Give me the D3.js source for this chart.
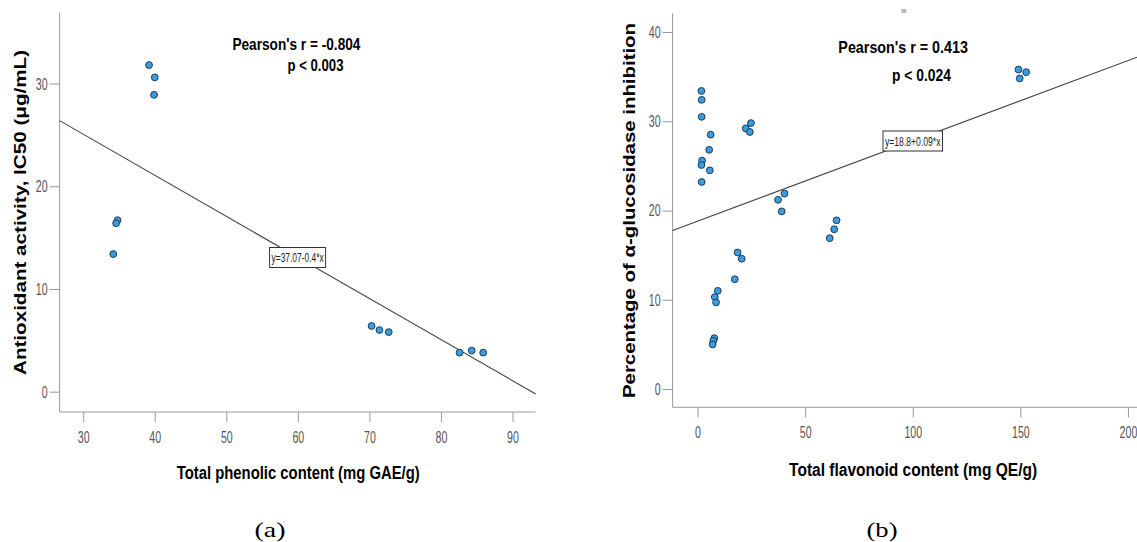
<!DOCTYPE html>
<html>
<head>
<meta charset="utf-8">
<script src="https://cdn.jsdelivr.net/npm/d3@7"></script>
<style>
	body { margin: 0; background: #fff; }
	.tick text { font-family: "Liberation Sans", sans-serif; font-size: 17px; fill: #555; }
	.tick line { stroke: #999; }
	.domain { stroke: #999; }
	.title { font-family: "Liberation Sans", sans-serif; font-weight: bold; fill: #000; }
	.cap { font-family: "Liberation Serif", "DejaVu Serif", serif; font-size: 21px; fill: #000; }
</style>
</head>
<body>
<svg class="chart" width="1137" height="542"></svg>
<script>
// (a) phenolic vs antioxidant IC50
const phenolicX = [39.2, 40.0, 39.9, 34.8, 34.6, 34.2, 70.3, 71.4, 72.7, 82.6, 84.3, 85.9];
const antioxY = [31.8, 30.6, 28.9, 16.7, 16.4, 13.4, 6.4, 6.0, 5.8, 3.8, 4.0, 3.8];
const phenolicTicks = [30, 40, 50, 60, 70, 80, 90];
const antioxTicks = [0, 10, 20, 30];

// (b) flavonoid vs alpha-glucosidase inhibition
const flavonoidX = [1.8, 1.9, 1.9, 6.1, 5.4, 2.1, 1.8, 5.7, 1.9, 22.4, 24.3, 24.8, 37.4, 40.4, 39.1,
	61.4, 63.5, 64.6, 18.6, 20.5, 17.3, 9.4, 8.0, 8.6, 7.8, 7.3, 7.0, 149.1, 149.7, 152.7];
const glucosidaseY = [33.4, 32.4, 30.5, 28.5, 26.8, 25.6, 25.1, 24.5, 23.2, 29.2, 28.8, 29.8, 21.2, 21.9, 19.9,
	16.9, 17.9, 18.9, 15.3, 14.6, 12.3, 11.0, 10.3, 9.7, 5.7, 5.4, 5.0, 35.8, 34.8, 35.5];
const flavonoidTicks = [0, 50, 100, 150, 200];
const glucosidaseTicks = [0, 10, 20, 30, 40];

const svg = d3.select('.chart');

// squeeze text to a width (the original uses a narrow font)
function fit(sel, w) {
	sel.attr('textLength', w).attr('lengthAdjust', 'spacingAndGlyphs');
}

function drawPanel(p) {
	const x = d3.scaleLinear().domain(p.xDomain).range([p.left, p.right]);
	const y = d3.scaleLinear().domain(p.yDomain).range([p.bottom, p.top]);
	const g = svg.append('g');

	const xAxis = g.append('g')
		.attr('transform', `translate(0,${p.bottom})`)
		.call(d3.axisBottom(x).tickValues(p.xTicks).tickSize(10).tickSizeOuter(0).tickPadding(9));
	const yAxis = g.append('g')
		.attr('transform', `translate(${p.left},0)`)
		.call(d3.axisLeft(y).tickValues(p.yTicks).tickSize(10).tickSizeOuter(0).tickPadding(2));
	xAxis.select('.domain').attr('d', `M${p.left},0H${p.right}`);
	yAxis.select('.domain').attr('d', `M0,${p.top}V${p.bottom}`);
	g.selectAll('.tick text').each(function() {
		const s = d3.select(this);
		fit(s, s.text().length * 5.9);
	});

	// regression line
	const x0 = p.xDomain[0];
	const x1 = p.xDomain[1];
	g.append('line')
		.attr('x1', x(x0))
		.attr('y1', y(p.a + p.b * x0))
		.attr('x2', x(x1))
		.attr('y2', y(p.a + p.b * x1))
		.attr('stroke', '#444')
		.attr('stroke-width', 1.1);

	// equation label
	const lbl = g.append('g').attr('transform', `translate(${p.eqPos[0]},${p.eqPos[1]})`);
	lbl.append('rect')
		.attr('width', p.eqW)
		.attr('height', 20)
		.attr('fill', '#fff')
		.attr('stroke', '#333');
	lbl.append('text')
		.text(p.eq)
		.attr('x', 2)
		.attr('y', 14.5)
		.attr('font-family', '"Liberation Sans", sans-serif')
		.attr('font-size', 12)
		.attr('fill', '#222')
		.call(fit, p.eqW - 4);

	g.selectAll('.dot')
		.data(p.xs)
		.enter()
		.append('circle')
		.attr('cx', function(d) { return x(d); })
		.attr('cy', function(d, i) { return y(p.ys[i]); })
		.attr('r', 3.4)
		.attr('fill', '#3a9de0')
		.attr('stroke', '#1e3a55')
		.attr('stroke-width', 1)
		.attr('class', 'dot');

	g.append('text').attr('class', 'title')
		.attr('x', p.rPos[0]).attr('y', p.rPos[1])
		.attr('text-anchor', 'middle').attr('font-size', 17)
		.text(p.rText)
		.call(fit, p.rW);
	g.append('text').attr('class', 'title')
		.attr('x', p.pPos[0]).attr('y', p.pPos[1])
		.attr('text-anchor', 'middle').attr('font-size', 17)
		.text(p.pText)
		.call(fit, p.pW);

	g.append('text').attr('class', 'title')
		.attr('x', p.xTitle[0]).attr('y', p.xTitle[1])
		.attr('text-anchor', 'middle').attr('font-size', 18)
		.text(p.xLabel)
		.call(fit, p.xW);
	g.append('text').attr('class', 'title')
		.attr('transform', `translate(${p.yTitle[0]},${p.yTitle[1]}) rotate(-90)`)
		.attr('text-anchor', 'middle').attr('font-size', 17)
		.text(p.yLabel)
		.call(fit, p.yW);

	g.append('text').attr('class', 'cap')
		.attr('x', p.cap[0]).attr('y', p.cap[1])
		.attr('text-anchor', 'middle')
		.text(p.capText)
		.call(fit, 31);
}

drawPanel({
	xs: phenolicX, ys: antioxY, xTicks: phenolicTicks, yTicks: antioxTicks,
	xDomain: [26.7, 93.24], yDomain: [-1.98, 36.9],
	left: 59.6, right: 535.7, top: 12.7, bottom: 412,
	a: 37.07, b: -0.4, eq: 'y=37.07-0.4*x', eqPos: [269.6, 247.5], eqW: 56,
	rText: "Pearson's r = -0.804", rPos: [296.4, 49.5], rW: 128,
	pText: 'p < 0.003', pPos: [315.5, 70.7], pW: 56,
	xLabel: 'Total phenolic content (mg GAE/g)', xTitle: [298.2, 479.3], xW: 243,
	yLabel: 'Antioxidant activity, IC50 (\u03bcg/mL)', yTitle: [26, 212.5], yW: 325,
	capText: '(a)', cap: [270, 536.5]
});

drawPanel({
	xs: flavonoidX, ys: glucosidaseY, xTicks: flavonoidTicks, yTicks: glucosidaseTicks,
	xDomain: [-11.6, 204.2], yDomain: [-2.05, 42.1],
	left: 672.6, right: 1137, top: 13.3, bottom: 407.3,
	a: 18.8, b: 0.09, eq: 'y=18.8+0.09*x', eqPos: [883, 131], eqW: 59.5,
	rText: "Pearson's r = 0.413", rPos: [903.1, 53.3], rW: 129.5,
	pText: 'p < 0.024', pPos: [921.4, 81], pW: 59,
	xLabel: 'Total flavonoid content (mg QE/g)', xTitle: [913.1, 475.7], xW: 248,
	yLabel: 'Percentage of \u03b1-glucosidase inhibition', yTitle: [635, 210.5], yW: 375,
	capText: '(b)', cap: [882, 536.5]
});

// small grey mark above panel (b)
svg.append('rect')
	.attr('x', 901.4).attr('y', 9).attr('width', 5).attr('height', 4)
	.attr('fill', '#bbb');
</script>
</body>
</html>
